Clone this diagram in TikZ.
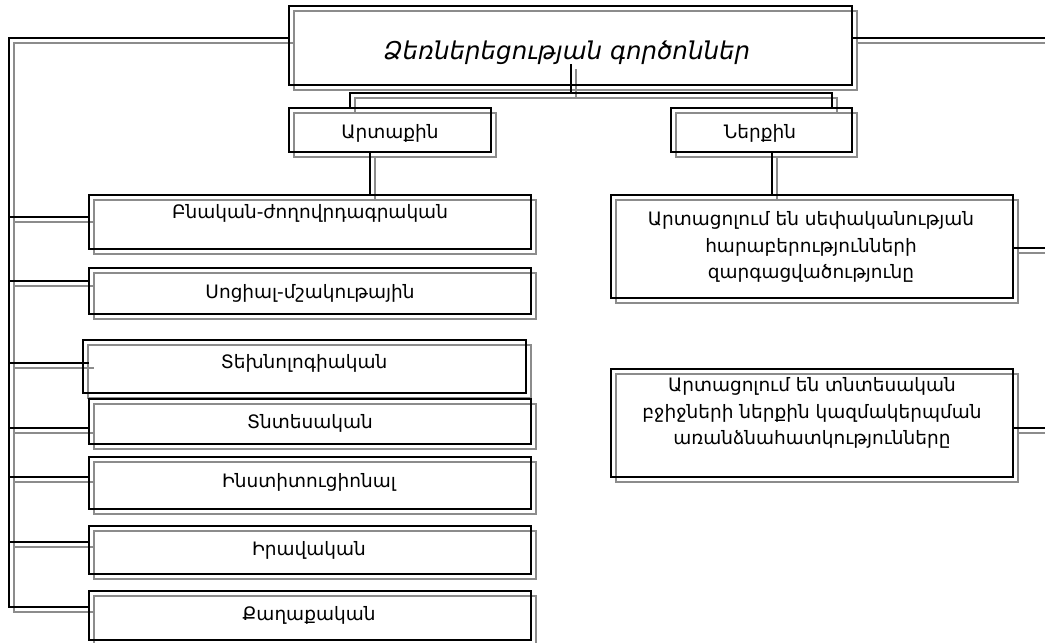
\documentclass[tikz,border=0pt]{standalone}
\usepackage{fontspec}
\setmainfont{DejaVu Sans}
\tikzset{
  geo/.style={draw=none, inner sep=0pt, outer sep=0pt},
  lbl/.style={font=\fontsize{18.5}{26.5}\selectfont, inner sep=0pt, align=center},
  ttl/.style={font=\fontsize{24.5}{28}\selectfont\itshape, inner sep=0pt},
}
\newcommand\skel{%
  \foreach \n in {title,a1,a2,r1,r2,b1,b2,b3,b4,b5,b6,b7}{\draw (\n.south west) rectangle (\n.north east);}
  \draw (tdrop) -- (tj);
  \draw (h1 |- a1.north) -- (h1) -- (h2) -- (h2 |- a2.north);
  \draw (v1 |- a1.south) -- (v1 |- b1.north);
  \draw (v2 |- a2.south) -- (v2 |- r1.north);
  \draw (title.west |- busT) -- (busT) -- (busB) -- (b7.west |- busB);
  \foreach \j/\n in {j1/b1,j2/b2,j4/b4,j5/b5,j6/b6}{\draw (\j) -- (\n.west |- \j);}
  \draw (j3) -- (j3e);
  \draw (title.east |- eT) -- (eT);
  \draw (r1.east |- eR1) -- (eR1);
  \draw (r2.east |- eR2) -- (eR2);
}
\begin{document}
\begin{tikzpicture}[x=1pt,y=-1pt,line join=miter]
\useasboundingbox (0,0) rectangle (1045,643);
% box geometry
\node[geo, minimum width=563pt, minimum height=79pt] (title) at (570.5,45.5) {};
\node[geo, minimum width=202pt, minimum height=44pt] (a1) at (390,130) {};
\node[geo, minimum width=181pt, minimum height=44pt] (a2) at (761.5,130) {};
\node[geo, minimum width=402pt, minimum height=103pt] (r1) at (812,246.5) {};
\node[geo, minimum width=402pt, minimum height=108pt] (r2) at (812,423) {};
\node[geo, minimum width=442pt, minimum height=54pt] (b1) at (310,222) {};
\node[geo, minimum width=442pt, minimum height=46pt] (b2) at (310,291) {};
\node[geo, minimum width=443pt, minimum height=53pt] (b3) at (304.5,366.5) {};
\node[geo, minimum width=442pt, minimum height=45pt] (b4) at (310,421.5) {};
\node[geo, minimum width=442pt, minimum height=52pt] (b5) at (310,483) {};
\node[geo, minimum width=442pt, minimum height=48pt] (b6) at (310,550) {};
\node[geo, minimum width=442pt, minimum height=49pt] (b7) at (310,615.5) {};
% connector points
\coordinate (tdrop) at (571,64);
\coordinate (tj) at (571,93);
\coordinate (h1) at (350,93);
\coordinate (h2) at (832,93);
\coordinate (v1) at (370,0);
\coordinate (v2) at (772,0);
\coordinate (busT) at (9,38);
\coordinate (busB) at (9,607);
\coordinate (j1) at (9,217);
\coordinate (j2) at (9,281);
\coordinate (j3) at (9,363);
\coordinate (j3e) at (89,363);
\coordinate (j4) at (9,428);
\coordinate (j5) at (9,477);
\coordinate (j6) at (9,542);
\coordinate (eT) at (1045,38);
\coordinate (eR1) at (1045,248);
\coordinate (eR2) at (1045,428);
% gray copy
\begin{scope}[transform canvas={shift={(5pt,-5pt)}}, color=black!45, line width=1.7pt]
\skel
\end{scope}
% black
\begin{scope}[color=black, line width=1.7pt]
\skel
\end{scope}
% texts
\node[ttl] (tt) at (567,53) {Ձեռներեցության գործոններ};
\node[lbl] (ta1) at (390,133) {Արտաքին};
\node[lbl] (ta2) at (760,133) {Ներքին};
\node[lbl] (tb1) at (310,213) {Բնական-ժողովրդագրական};
\node[lbl] (tb2) at (310,293) {Սոցիալ-մշակութային};
\node[lbl] (tb3) at (304,363) {Տեխնոլոգիական};
\node[lbl] (tb4) at (310,423) {Տնտեսական};
\node[lbl] (tb5) at (309,482) {Ինստիտուցիոնալ};
\node[lbl] (tb6) at (309,550) {Իրավական};
\node[lbl] (tb7) at (309,615) {Քաղաքական};
\node[lbl] (tr1) at (811,247) {Արտացոլում են սեփականության\\հարաբերությունների\\զարգացվածությունը};
\node[lbl] (tr2) at (812,413) {Արտացոլում են տնտեսական\\բջիջների ներքին կազմակերպման\\առանձնահատկությունները};
\end{tikzpicture}
\end{document}
